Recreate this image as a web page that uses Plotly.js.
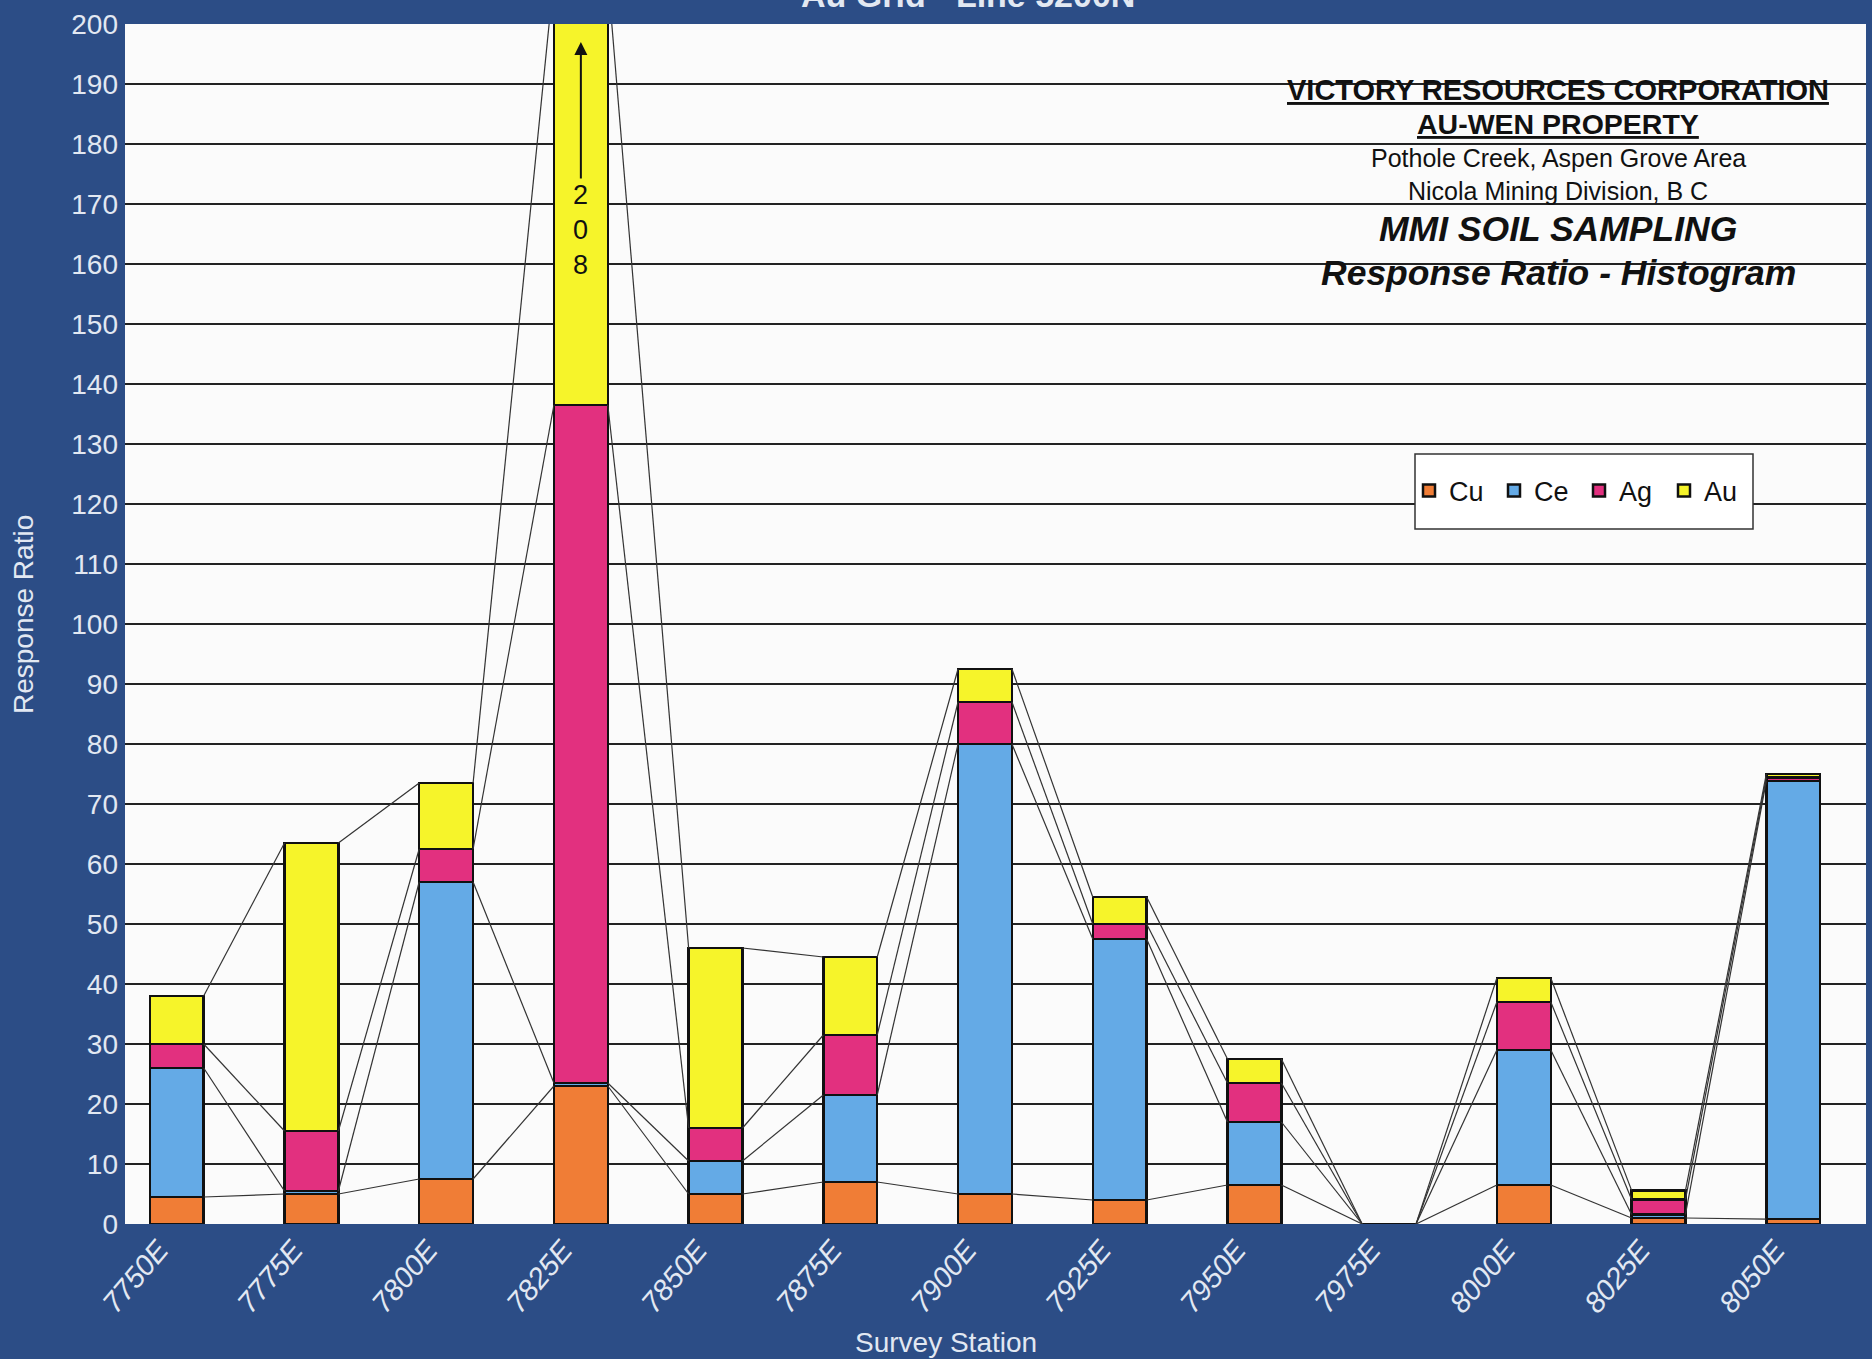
<!DOCTYPE html>
<html>
<head>
<meta charset="utf-8">
<script src="https://cdn.plot.ly/plotly-3.0.1.min.js"></script>
<style>html,body{margin:0;padding:0;background:#2c4d86;}#chart{width:1872px;height:1359px;}</style>
</head>
<body>
<div id="chart"></div>
<script>
// ---- data ----
const categories = ['7750E','7775E','7800E','7825E','7850E','7875E','7900E','7925E','7950E','7975E','8000E','8025E','8050E'];
const cu = [4.5, 5, 7.5, 23, 5, 7, 5, 4, 6.5, 0, 6.5, 1, 0.8];
const ce = [21.5, 0.5, 49.5, 0.5, 5.5, 14.5, 75, 43.5, 10.5, 0, 22.5, 0.6, 73];
const ag = [4, 10, 5.5, 113, 5.5, 10, 7, 2.5, 6.5, 0, 8, 2.5, 0.6];
const au = [8, 48, 11, 71.5, 30, 13, 5.5, 4.5, 4, 0, 4, 1.5, 0.6];
const seriesNames = ['Cu', 'Ce', 'Ag', 'Au'];
const yTicks = [0,10,20,30,40,50,60,70,80,90,100,110,120,130,140,150,160,170,180,190,200];
const infoLines = ['VICTORY RESOURCES CORPORATION', 'AU-WEN PROPERTY', 'Pothole Creek, Aspen Grove Area', 'Nicola Mining Division, B C', 'MMI SOIL SAMPLING', 'Response Ratio - Histogram'];
const chartTitle = 'Au Grid - Line 5200N';
const xTitle = 'Survey Station';
const yTitle = 'Response Ratio';

// ---- styling ----
const colors = ['#f07d36', '#64aae6', '#e2307f', '#f6f42a'];
const BG = '#2c4d86';
const LABEL = '#e2e8f2';
const FONT = 'Liberation Sans, Arial, sans-serif';
const BARW = 0.4;
const W = 1872, H = 1359, ML = 125, MR = 6, MT = 24, MB = 135;
const PW = W - ML - MR, PH = H - MT - MB;
const px = p => (p - ML) / PW;          // pixel -> paper x
const py = p => 1 - (p - MT) / PH;      // pixel -> paper y

const series = [cu, ce, ag, au];
const xs = categories.map((_, i) => i);

const traces = series.map((vals, k) => ({
  type: 'bar', name: seriesNames[k], x: xs, y: vals,
  width: BARW,
  marker: {color: colors[k], line: {color: '#111', width: 2.5}},
  hoverinfo: 'skip'
}));

// series lines (Excel-style) joining the top of each stacked segment
const cum = [];
let running = xs.map(() => 0);
series.forEach(vals => { running = running.map((r, i) => r + vals[i]); cum.push(running.slice()); });
cum.forEach(c => {
  const lx = [], ly = [];
  for (let i = 0; i < xs.length - 1; i++) {
    lx.push(xs[i] + BARW / 2, xs[i + 1] - BARW / 2, null);
    ly.push(c[i], c[i + 1], null);
  }
  traces.push({type: 'scatter', mode: 'lines', x: lx, y: ly, showlegend: false, hoverinfo: 'skip',
    line: {color: '#333', width: 1.2}});
});

// the off-scale total of the tallest bar
const totals = cum[cum.length - 1];
const bigIdx = totals.indexOf(Math.max(...totals));
const bigLabel = String(Math.round(totals[bigIdx])).split('').join('<br>');

const infoPy = [90, 124, 158, 191, 229, 273];
const infoFmt = [
  t => '<b><u>' + t + '</u></b>', t => '<b><u>' + t + '</u></b>', t => t, t => t,
  t => '<b><i>' + t + '</i></b>', t => '<b><i>' + t + '</i></b>'];
const infoSize = [29, 28.5, 25, 25, 35.5, 35.5];

const annotations = infoLines.map((t, k) => ({
  xref: 'paper', yref: 'paper', x: px(1558), y: py(infoPy[k]), xanchor: 'center', yanchor: 'middle',
  text: infoFmt[k](t), showarrow: false, font: {family: FONT, size: infoSize[k], color: '#111'}
}));
annotations.push({
  xref: 'x', yref: 'y', x: xs[bigIdx], y: 165.6, text: bigLabel, showarrow: false,
  font: {family: FONT, size: 27, color: '#111'}
});
annotations.push({
  xref: 'x', yref: 'y', axref: 'x', ayref: 'y', x: xs[bigIdx], y: 197, ax: xs[bigIdx], ay: 174,
  text: '', showarrow: true, arrowhead: 2, arrowsize: 1.3, arrowwidth: 2, arrowcolor: '#111'
});
annotations.push({
  xref: 'paper', yref: 'paper', x: px(968), y: py(-5), xanchor: 'center', yanchor: 'middle',
  text: '<b>' + chartTitle + '</b>', showarrow: false, font: {family: FONT, size: 34, color: LABEL}
});
annotations.push({
  xref: 'paper', yref: 'paper', x: px(946), y: py(1342), xanchor: 'center', yanchor: 'middle',
  text: xTitle, showarrow: false, font: {family: FONT, size: 28, color: LABEL}
});
annotations.push({
  xref: 'paper', yref: 'paper', x: px(24), y: py(615), xanchor: 'center', yanchor: 'middle',
  text: yTitle, textangle: -90, showarrow: false, font: {family: FONT, size: 28, color: LABEL}
});

const layout = {
  width: W, height: H,
  paper_bgcolor: BG, plot_bgcolor: '#fbfbfb',
  margin: {l: ML, r: MR, t: MT, b: MB},
  barmode: 'stack', bargap: 0.6,
  showlegend: true,
  legend: {orientation: 'h', x: px(1409), y: py(491), xanchor: 'left', yanchor: 'middle',
    bgcolor: 'rgba(0,0,0,0)', borderwidth: 0, traceorder: 'normal', entrywidth: 40,
    font: {family: FONT, size: 27, color: '#111'}},
  shapes: [{type: 'rect', xref: 'paper', yref: 'paper', x0: px(1415), x1: px(1753), y0: py(529), y1: py(454),
    fillcolor: '#ffffff', line: {color: '#333', width: 1.5}, layer: 'above'}],
  xaxis: {
    range: [-0.384, 12.54], tickvals: xs, ticktext: categories, tickangle: -50,
    ticklabelshift: -18, ticklabelstandoff: 2,
    showgrid: false, zeroline: false, showline: false, ticks: '',
    tickfont: {family: FONT, size: 29, color: LABEL, style: 'italic'},
    automargin: false
  },
  yaxis: {
    range: [0, 200], tickvals: yTicks, ticks: '', ticklabelstandoff: 6,
    showgrid: true, gridcolor: '#222', gridwidth: 1.5, zeroline: false, showline: false,
    tickfont: {family: FONT, size: 28, color: LABEL},
    automargin: false
  },
  annotations: annotations
};

Plotly.newPlot('chart', traces, layout, {displayModeBar: false, staticPlot: true});
</script>
</body>
</html>
